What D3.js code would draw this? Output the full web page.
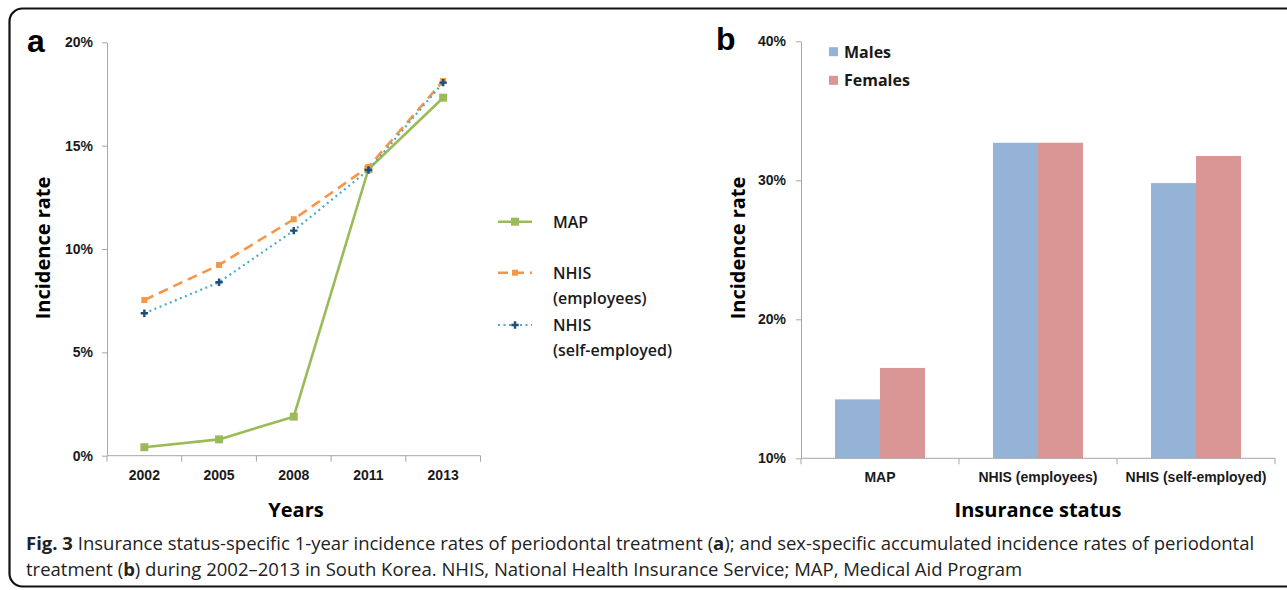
<!DOCTYPE html>
<html>
<head>
<meta charset="utf-8">
<script src="https://cdn.jsdelivr.net/npm/d3@7"></script>
<style>
  body { margin: 0; background: #fff; }
  svg { display: block; font-family: "Open Sans", "Noto Sans", sans-serif; }
  .axis path, .axis line { stroke: #a6a6a6; }
  .axis text { font-weight: bold; fill: #1a1a1a; }
</style>
</head>
<body>
<script>
// panel a: 1-year incidence rate by insurance status
var years = ["2002", "2005", "2008", "2011", "2013"];
var mapRate = [0.0041, 0.0079, 0.0189, 0.1386, 0.1732];
var employeeRate = [0.0753, 0.0923, 0.1144, 0.1397, 0.1813];
var selfEmployedRate = [0.0689, 0.0839, 0.1089, 0.1382, 0.1805];
var rateTicks = [0, 0.05, 0.10, 0.15, 0.20];

// panel b: accumulated incidence by sex
var statuses = ["MAP", "NHIS (employees)", "NHIS (self-employed)"];
var males = [0.1424, 0.327, 0.298];
var females = [0.1650, 0.327, 0.3175];
var sexTicks = [0.10, 0.20, 0.30, 0.40];

var svg = d3.select("body").append("svg")
    .attr("width", 1287)
    .attr("height", 590);

// frame
svg.append("rect")
    .attr("x", 9.5).attr("y", 8.5)
    .attr("width", 1300).attr("height", 578)
    .attr("rx", 13)
    .attr("fill", "none")
    .attr("stroke", "#111")
    .attr("stroke-width", 2.2);

var pct = d3.format(".0%");

/* ---------- panel a ---------- */
var x = d3.scaleBand().domain(years).range([107, 480.5]);
var y = d3.scaleLinear().domain([0, 0.2]).range([455.7, 42.3]);

var gA = svg.append("g");

gA.append("g")
    .attr("class", "axis")
    .attr("transform", "translate(107,0)")
    .call(d3.axisLeft(y).tickValues(rateTicks).tickFormat(pct).tickSize(5).tickSizeOuter(0).tickPadding(9))
    .selectAll("text").style("font-size", "14px");

var xAxisA = gA.append("g")
    .attr("class", "axis")
    .attr("transform", "translate(0,455.7)")
    .call(d3.axisBottom(x).tickSize(0).tickPadding(14));
xAxisA.selectAll("text").style("font-size", "14px");
xAxisA.select(".domain").attr("d", "M107,0H480.5");

// ticks sit between the categories
xAxisA.selectAll(".bound")
    .data(d3.range(years.length + 1))
    .enter().append("line")
      .attr("class", "bound")
      .attr("x1", function(d) { return x.range()[0] + d * x.step(); })
      .attr("x2", function(d) { return x.range()[0] + d * x.step(); })
      .attr("y1", 0).attr("y2", 6)
      .attr("stroke", "#a6a6a6");

var series = [
  { name: ["MAP"], values: mapRate, color: "#9bbb59", dash: null, width: 2.6,
    marker: d3.symbolSquare, msize: 64, mcolor: "#9bbb59" },
  { name: ["NHIS", "(employees)"], values: employeeRate, color: "#f79646", dash: "10,6", width: 2.6,
    marker: d3.symbolSquare, msize: 36, mcolor: "#f79646" },
  { name: ["NHIS", "(self-employed)"], values: selfEmployedRate, color: "#4bacc6", dash: "2,3.5", width: 2.2,
    marker: d3.symbolCross, msize: 30, mcolor: "#1f4e79" }
];

var line = d3.line()
    .x(function(d, i) { return x(years[i]) + x.bandwidth() / 2; })
    .y(function(d) { return y(d); });

series.forEach(function(s) {
  gA.append("path")
      .datum(s.values)
      .attr("d", line)
      .attr("fill", "none")
      .attr("stroke", s.color)
      .attr("stroke-width", s.width)
      .attr("stroke-dasharray", s.dash);

  gA.selectAll(null)
      .data(s.values)
      .enter().append("path")
        .attr("d", d3.symbol().type(s.marker).size(s.msize))
        .attr("transform", function(d, i) {
          return "translate(" + (x(years[i]) + x.bandwidth() / 2) + "," + y(d) + ")";
        })
        .attr("fill", s.mcolor);
});

// legend a
var legA = gA.append("g");
var legRowsY = [221.7, 272.7, 325];
series.forEach(function(s, i) {
  var row = legA.append("g").attr("transform", "translate(0," + legRowsY[i] + ")");
  row.append("line")
      .attr("x1", 498).attr("x2", 532).attr("y1", 0).attr("y2", 0)
      .attr("stroke", s.color)
      .attr("stroke-width", s.width)
      .attr("stroke-dasharray", s.dash);
  row.append("path")
      .attr("d", d3.symbol().type(s.marker).size(s.msize))
      .attr("transform", "translate(515,0)")
      .attr("fill", s.mcolor);
  row.selectAll("text")
      .data(s.name)
      .enter().append("text")
        .attr("x", 553)
        .attr("y", function(d, j) { return 6 + j * 25; })
        .style("font-size", "16px")
        .style("font-weight", "600")
        .attr("fill", "#1a1a1a")
        .text(function(d) { return d; });
});

gA.append("text")
    .attr("transform", "translate(50,248) rotate(-90)")
    .attr("text-anchor", "middle")
    .style("font-size", "20px").style("font-weight", "bold")
    .text("Incidence rate");

gA.append("text")
    .attr("x", 296).attr("y", 517)
    .attr("text-anchor", "middle")
    .style("font-size", "20px").style("font-weight", "bold")
    .text("Years");

gA.append("text")
    .attr("x", 27).attr("y", 52)
    .style("font-size", "32px").style("font-weight", "bold")
    .style("font-family", "Liberation Sans, Arial, sans-serif")
    .text("a");

/* ---------- panel b ---------- */
var x0 = d3.scaleBand().domain(statuses).range([801, 1275]);
var x1 = d3.scaleBand().domain(["Males", "Females"]).range([0, 90]);
var yb = d3.scaleLinear().domain([0.1, 0.4]).range([458.3, 41.3]);
var sexColor = { Males: "#95b3d7", Females: "#d99694" };

var gB = svg.append("g");

var groups = gB.selectAll(".grp")
    .data(statuses)
    .enter().append("g")
      .attr("class", "grp")
      .attr("transform", function(d) { return "translate(" + (x0(d) + x0.bandwidth() / 2 - 45) + ",0)"; });

groups.selectAll("rect")
    .data(function(d, i) { return [{ k: "Males", v: males[i] }, { k: "Females", v: females[i] }]; })
    .enter().append("rect")
      .attr("x", function(d) { return x1(d.k); })
      .attr("width", x1.bandwidth())
      .attr("y", function(d) { return yb(d.v); })
      .attr("height", function(d) { return yb(0.1) - yb(d.v); })
      .attr("fill", function(d) { return sexColor[d.k]; });

gB.append("g")
    .attr("class", "axis")
    .attr("transform", "translate(801,0)")
    .call(d3.axisLeft(yb).tickValues(sexTicks).tickFormat(pct).tickSize(5).tickSizeOuter(0).tickPadding(10))
    .selectAll("text").style("font-size", "14px");

var xAxisB = gB.append("g")
    .attr("class", "axis")
    .attr("transform", "translate(0,458.3)")
    .call(d3.axisBottom(x0).tickSize(0).tickPadding(14));
xAxisB.selectAll("text").style("font-size", "14px").style("font-weight", "600");
xAxisB.select(".domain").attr("d", "M801,0H1275");
xAxisB.selectAll(".bound")
    .data(d3.range(statuses.length + 1))
    .enter().append("line")
      .attr("class", "bound")
      .attr("x1", function(d) { return x0.range()[0] + d * x0.step(); })
      .attr("x2", function(d) { return x0.range()[0] + d * x0.step(); })
      .attr("y1", 0).attr("y2", 6)
      .attr("stroke", "#a6a6a6");

// legend b
var legB = gB.selectAll(".legb")
    .data(["Males", "Females"])
    .enter().append("g")
      .attr("class", "legb")
      .attr("transform", function(d, i) { return "translate(829," + (51.7 + i * 28.6) + ")"; });
legB.append("rect")
    .attr("x", 0).attr("y", -4.5).attr("width", 9).attr("height", 9)
    .attr("fill", function(d) { return sexColor[d]; });
legB.append("text")
    .attr("x", 15).attr("y", 6)
    .style("font-size", "16px").style("font-weight", "bold")
    .attr("fill", "#1a1a1a")
    .text(function(d) { return d; });

gB.append("text")
    .attr("transform", "translate(745,248) rotate(-90)")
    .attr("text-anchor", "middle")
    .style("font-size", "20px").style("font-weight", "bold")
    .text("Incidence rate");

gB.append("text")
    .attr("x", 1038).attr("y", 517)
    .attr("text-anchor", "middle")
    .style("font-size", "20px").style("font-weight", "bold")
    .text("Insurance status");

gB.append("text")
    .attr("x", 716).attr("y", 50)
    .style("font-size", "32px").style("font-weight", "bold")
    .style("font-family", "Liberation Sans, Arial, sans-serif")
    .text("b");

/* ---------- caption ---------- */
var cap = svg.append("g").style("font-size", "18.5px").attr("fill", "#222");
var line1 = cap.append("text").attr("x", 26).attr("y", 550);
line1.append("tspan").style("font-weight", "bold").text("Fig. 3");
line1.append("tspan").text(" Insurance status-specific 1-year incidence rates of periodontal treatment (");
line1.append("tspan").style("font-weight", "bold").text("a");
line1.append("tspan").text("); and sex-specific accumulated incidence rates of periodontal");

var line2 = cap.append("text").attr("x", 26).attr("y", 576);
line2.append("tspan").text("treatment (");
line2.append("tspan").style("font-weight", "bold").text("b");
line2.append("tspan").text(") during 2002\u20132013 in South Korea. NHIS, National Health Insurance Service; MAP, Medical Aid Program");
</script>
</body>
</html>
